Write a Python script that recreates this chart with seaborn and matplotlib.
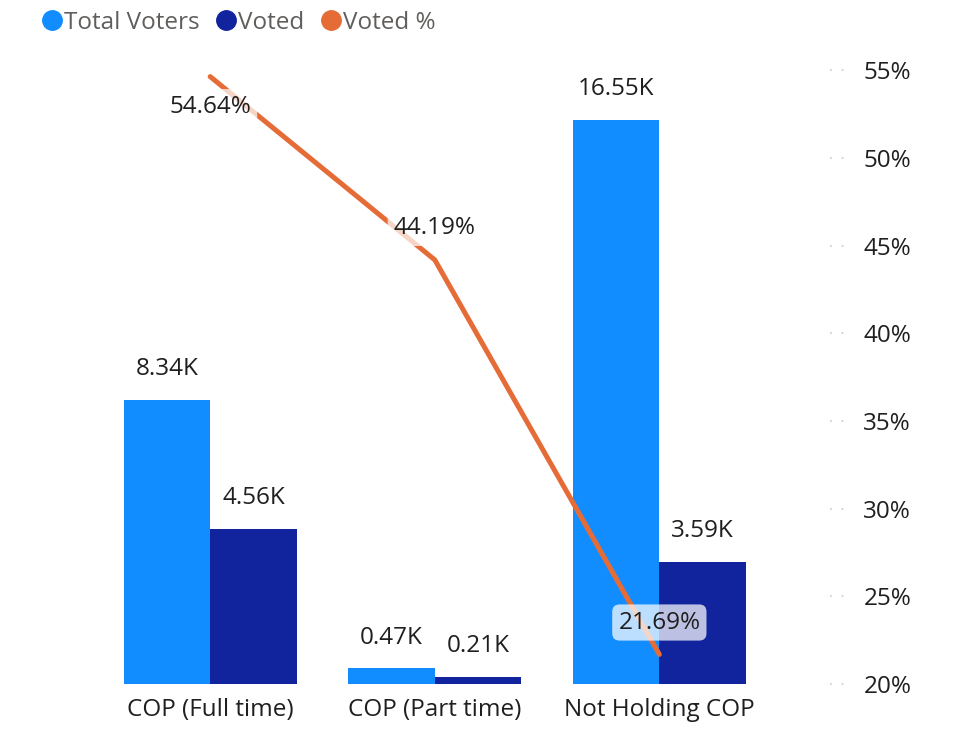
import pandas as pd
import matplotlib
matplotlib.use("Agg")
import matplotlib.pyplot as plt
from matplotlib.lines import Line2D
import seaborn as sns

sns.set_style("white")
plt.rcParams['font.family'] = ['Open Sans', 'DejaVu Sans']

# data
categories = ['COP (Full time)', 'COP (Part time)', 'Not Holding COP']
total_voters = [8340, 470, 16550]
voted = [4560, 210, 3590]
voted_pct = [54.64, 44.19, 21.69]
pct_ticks = [20, 25, 30, 35, 40, 45, 50, 55]

c_total = '#118DFF'
c_voted = '#12239E'
c_pct = '#E66C37'
txt = '#1F1F1F'
fs = 17.5

df = pd.DataFrame({
    'category': categories * 2,
    'series': ['Total Voters'] * 3 + ['Voted'] * 3,
    'value': total_voters + voted,
})

fig = plt.figure(figsize=(9.55, 7.34), dpi=100)
ax = fig.add_axes([0.1025, 0.068, 0.7055, 0.85])

sns.barplot(data=df, x='category', y='value', hue='series',
            palette=[c_total, c_voted], width=0.77, gap=0,
            saturation=1, linewidth=0, ax=ax, legend=False)
ax.set_ylim(0, 18300)
ax.set_xlim(-0.5, 2.5)
ax.set_xlabel('')
ax.set_ylabel('')
ax.set_yticks([])
ax.tick_params(axis='x', length=0, pad=10, labelsize=fs, labelcolor=txt)
sns.despine(ax=ax, left=True, bottom=True)

box = dict(boxstyle='round,pad=0.25,rounding_size=0.3', fc='white', ec='none', alpha=0.72)
for cont in ax.containers:
    for bar in cont:
        h = bar.get_height()
        ax.annotate(f'{h / 1000:.2f}K', (bar.get_x() + bar.get_width() / 2, h),
                    xytext=(0, 22), textcoords='offset points',
                    ha='center', va='center', fontsize=fs, color=txt,
                    bbox=box)

ax2 = ax.twinx()
sns.lineplot(x=[0, 1, 2], y=voted_pct, color=c_pct, linewidth=3.6,
             solid_capstyle='round', solid_joinstyle='round', ax=ax2)
ax2.set_ylim(20, 20 + 624 / 17.54)
ax2.set_yticks(pct_ticks)
ax2.set_yticklabels([f'{t}%' for t in pct_ticks])
ax2.tick_params(axis='y', length=0, pad=66, labelsize=fs, labelcolor=txt)
sns.despine(ax=ax2, left=True, right=True, bottom=True)
ax2.hlines(pct_ticks, 1.087, 1.107, transform=ax2.get_yaxis_transform(),
           colors='#C8C8C8', linestyles=(0, (1, 6)), linewidth=1.2, clip_on=False)

offsets = [-22, 23, 23]
for i, (v, off) in enumerate(zip(voted_pct, offsets)):
    ax2.annotate(f'{v:.2f}%', (i, v), xytext=(0, off), textcoords='offset points',
                 ha='center', va='center', fontsize=fs, color=txt, bbox=box)

handles = [Line2D([], [], marker='o', linestyle='none', markersize=14, color=c)
           for c in [c_total, c_voted, c_pct]]
fig.legend(handles, ['Total Voters', 'Voted', 'Voted %'], loc='upper left',
           bbox_to_anchor=(0.026, 1.005), ncol=3, frameon=False, fontsize=fs,
           labelcolor='#605E5C', handletextpad=0.0, columnspacing=0.6,
           handlelength=1.0, borderaxespad=0.2)

fig.savefig('out.png', dpi=100)
